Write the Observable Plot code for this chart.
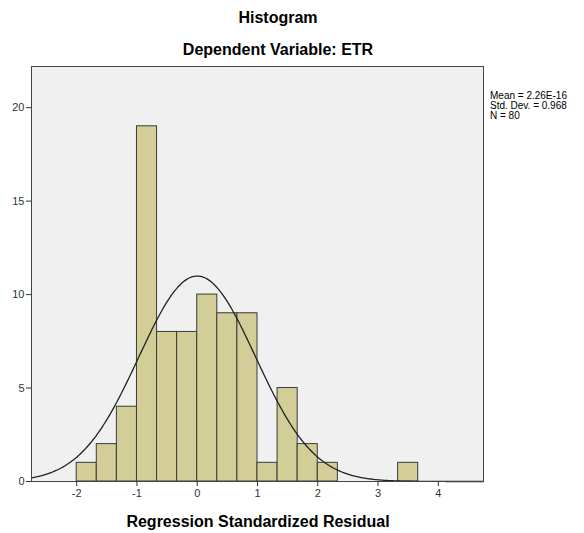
<!DOCTYPE html>
<html>
<head>
<meta charset="utf-8">
<script src="https://cdn.jsdelivr.net/npm/d3@7"></script>
<script src="https://cdn.jsdelivr.net/npm/@observablehq/plot@0.6"></script>
<style>
  html, body { margin: 0; padding: 0; background: #fff; }
  #wrap { position: relative; width: 584px; height: 533px; font-family: "Liberation Sans", Arial, sans-serif; }
  .t { position: absolute; font-weight: bold; font-size: 16px; line-height: 18px; color: #000; white-space: nowrap; transform: translateX(-50%); }
  #legend { position: absolute; left: 490px; top: 91px; font-size: 10px; line-height: 10px; color: #000; white-space: nowrap; }
</style>
</head>
<body>
<div id="wrap">
  <div class="t" style="left:278px; top:9px;">Histogram</div>
  <div class="t" style="left:278px; top:41px;">Dependent Variable: ETR</div>
  <div id="legend">Mean = 2.26E-16<br>Std. Dev. = 0.968<br>N = 80</div>
  <div class="t" style="left:258px; top:513px;">Regression Standardized Residual</div>
</div>
<script>
// Bins (lower edges, width 1/3) and frequencies
const binStarts = [-2, -5/3, -4/3, -1, -2/3, -1/3, 0, 1/3, 2/3, 1, 4/3, 5/3, 2, 10/3];
const binWidth = 1/3;
const counts = [1, 2, 4, 19, 8, 8, 10, 9, 9, 1, 5, 2, 1, 1];
const xTicks = [-2, -1, 0, 1, 2, 3, 4];
const yTicks = [0, 5, 10, 15, 20];
// Summary statistics shown on the chart (define the normal curve SPSS overlays)
const statMean = 2.26e-16;
const statSd = 0.968;
const statN = 80;

const bins = binStarts.map((s, i) => ({x1: s, x2: s + binWidth, count: counts[i]}));

const xDomain = [-2.75, 4.75];
const curve = d3.range(0, 301).map(i => {
  const x = xDomain[0] + (xDomain[1] - xDomain[0]) * i / 300;
  const z = (x - statMean) / statSd;
  return {x, y: statN * binWidth * Math.exp(-0.5 * z * z) / (statSd * Math.sqrt(2 * Math.PI))};
});

const chart = Plot.plot({
  width: 584,
  height: 533,
  marginLeft: 31,
  marginRight: 101,
  marginTop: 66,
  marginBottom: 52,
  style: {fontFamily: "'Liberation Sans', Arial, sans-serif", fontSize: "11px", color: "#333", background: "transparent"},
  x: {domain: xDomain},
  y: {domain: [0, 22.2]},
  marks: [
    Plot.frame({fill: "#f0f0f0"}),
    Plot.rect(bins, {x1: "x1", x2: "x2", y1: 0, y2: "count", fill: "#d3ce97", stroke: "#3a3a3a", strokeWidth: 1}),
    Plot.line(curve, {x: "x", y: "y", stroke: "#222", strokeWidth: 1.3}),
    Plot.frame({stroke: "#444", strokeWidth: 1}),
    Plot.axisX({ticks: xTicks, tickSize: 5, tickPadding: 3, tickFormat: d => `${d}`, label: null, fontSize: 11}),
    Plot.axisY({ticks: yTicks, tickSize: 5, tickPadding: 2, tickFormat: d => `${d}`, label: null, fontSize: 11})
  ]
});
chart.style.position = "absolute";
chart.style.left = "0px";
chart.style.top = "0px";
document.getElementById("wrap").prepend(chart);
</script>
</body>
</html>
